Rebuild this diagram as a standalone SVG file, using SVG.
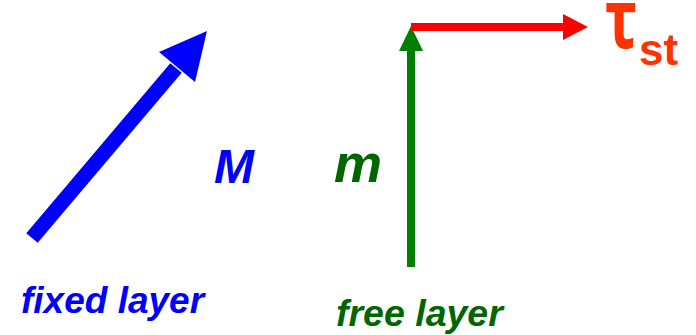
<svg xmlns="http://www.w3.org/2000/svg" width="696" height="335" viewBox="0 0 696 335">
<style>
.lbl{font-family:"Liberation Sans",Arial,sans-serif;font-weight:bold;font-style:italic}
.blue{fill:#0000ff}
.green{fill:#006600}
</style>
<rect width="696" height="335" fill="#ffffff"/>
<g id="connectors">
  <g id="fixed-arrow">
    <line x1="32" y1="238" x2="176" y2="68" stroke="#0000ff" stroke-width="15"/>
    <polygon points="207,31 159,52 195,82" fill="#0000ff"/>
  </g>
  <g id="free-arrow">
    <line x1="411" y1="267" x2="411" y2="48" stroke="#008000" stroke-width="8"/>
    <polygon points="411,26 399,51 423,51" fill="#008000"/>
  </g>
  <g id="torque-arrow">
    <line x1="411" y1="27" x2="565" y2="27" stroke="#ff0000" stroke-width="8"/>
    <polygon points="588,27 563,14 563,40" fill="#ff0000"/>
  </g>
</g>
<g id="label-M"><text class="lbl blue" x="214" y="183" font-size="48">M</text></g>
<g id="label-m"><text class="lbl green" x="334" y="182" font-size="54">m</text></g>
<g id="label-tau">
  <text transform="translate(605,48) scale(1,1.38)" font-family="'Noto Sans',sans-serif" font-weight="bold" font-size="60" fill="#ff3300">τ</text>
  <text x="639" y="65" font-family="'Liberation Sans',Arial,sans-serif" font-weight="bold" font-size="44" fill="#ff3300">st</text>
</g>
<g id="label-fixed"><text class="lbl blue" x="21" y="313" font-size="37">fixed layer</text></g>
<g id="label-free"><text class="lbl green" x="336" y="326" font-size="37.5">free layer</text></g>
</svg>
